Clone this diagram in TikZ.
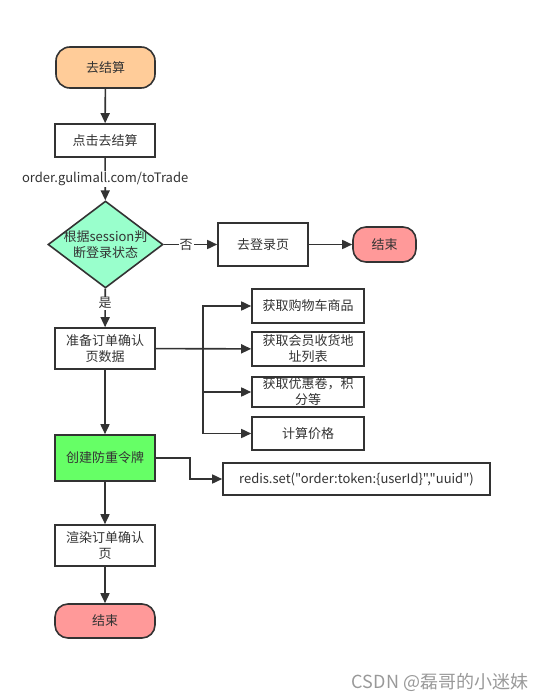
\documentclass[tikz,border=0pt]{standalone}
\usepackage{fontspec}
\setmainfont{Noto Sans CJK SC}[Ligatures=TeXOff]
\usetikzlibrary{positioning}
\usetikzlibrary{shapes.geometric}
\usetikzlibrary{arrows.meta}

\definecolor{linec}{HTML}{333333}
\definecolor{startc}{HTML}{FFCC99}
\definecolor{checkc}{HTML}{99FFCC}
\definecolor{endc}{HTML}{FF9999}
\definecolor{tokenc}{HTML}{66FF66}
\newcommand{\flowfont}{\fontsize{13}{16}\selectfont}

\tikzset{
  box/.style={draw=linec, line width=1.6pt, fill=white, text=linec, font=\flowfont,
    align=center, minimum width=100pt, inner sep=1pt},
  term/.style={box, rounded corners=14pt},
  sub/.style={box, minimum width=112pt},
  decide/.style={shape=diamond, draw=linec, line width=1.6pt, fill=checkc,
    minimum width=115pt, minimum height=87pt, inner sep=0pt},
  flow/.style={draw=linec, line width=1.6pt, ->},
  tag/.style={fill=white, text=linec, font=\flowfont, inner sep=1pt}
}

\begin{document}
\begin{tikzpicture}[x=1pt,y=-1pt,>={Triangle[length=10pt,width=9pt]}]
        \useasboundingbox (0,0) rectangle (551,700);

        % main column
        \node[term, fill=startc, minimum width=99pt, minimum height=41pt] (start) at (105.5,67.5) {去结算};
        \node[box, minimum height=33pt] (click) at (105,140.5) {点击去结算};
        \node[decide] (check) at (105.5,244.5) {};
        \node[text=linec, font=\flowfont, align=center] (checktxt) at (check) {根据session判\\断登录状态};
        \node[box, minimum height=41pt] (prep) at (105,348.5) {准备订单确认\\页数据};
        \node[box, fill=tokenc, minimum height=46pt] (token) at (105,458) {创建防重令牌};
        \node[box, minimum height=41pt] (render) at (105,545.5) {渲染订单确认\\页};
        \node[term, fill=endc, minimum height=34pt, rounded corners=13pt] (end2) at (105,621) {结束};

        % not logged in
        \node[box, minimum width=90pt, minimum height=43pt] (login) at (263,244.5) {去登录页};
        \node[term, fill=endc, minimum width=63pt, minimum height=35pt, rounded corners=13pt] (end1) at (384.5,244.5) {结束};

        % page data
        \node[sub, minimum height=34pt] (cart) at (308,306) {获取购物车商品};
        \node[sub, minimum height=34pt] (addr) at (308,349) {获取会员收货地\\址列表};
        \node[sub, minimum height=30pt, inner ysep=0pt] (coupon) at (308,392) {获取优惠卷，积\\分等};
        \node[sub, minimum height=33pt] (price) at (308,433.5) {计算价格};
        \coordinate (fork) at (203,348.5);

        \node[box, minimum width=267pt, minimum height=32pt] (redis) at (356.5,479) {redis.set("order:token:\{userId\}","uuid")};

        \node[text=gray!80, font=\fontsize{18}{20}\selectfont] (mark) at (440,682) {CSDN @磊哥的小迷妹};

        \draw[flow] (start) -- (click);
        \draw[flow] (click) -- node[tag]{order.gulimall.com/toTrade} (check);
        \draw[flow] (check) -- node[tag, pos=0.42]{否} (login);
        \draw[flow] (login) -- (end1);
        \draw[flow] (check) -- node[tag, pos=0.38]{是} (prep);
        \draw[flow] (prep) -- (addr);
        \draw[flow] (fork) |- (cart);
        \draw[flow] (fork) |- (coupon);
        \draw[flow] (fork) |- (price);
        \draw[flow] (prep) -- (token);
        \draw[flow] (token.east) -- ++(34,0) |- (redis);
        \draw[flow] (token) -- (render);
        \draw[flow] (render) -- (end2);
      \end{tikzpicture}
\end{document}
